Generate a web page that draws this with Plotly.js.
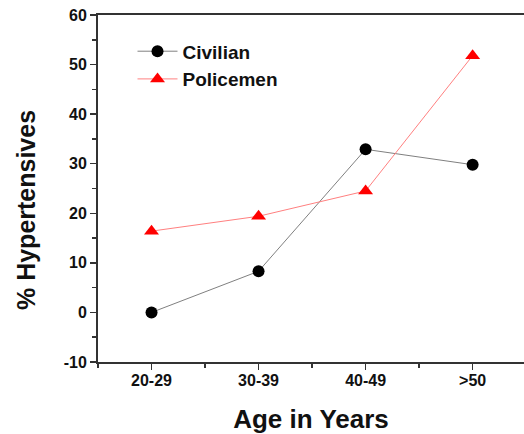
<!DOCTYPE html>
<html>
<head>
<meta charset="utf-8">
<script src="https://cdn.plot.ly/plotly-3.0.1.min.js"></script>
<style>
  html, body { margin: 0; padding: 0; background: #fff; overflow: hidden; }
  #chart { width: 524px; height: 434px; }
</style>
</head>
<body>
<div id="chart"></div>
<script>
// Age groups and share of hypertensives (%) in each group
const ageGroups = ['20-29', '30-39', '40-49', '>50'];
const civilian = [0.0, 8.3, 32.9, 29.8];
const policemen = [16.4, 19.4, 24.5, 51.8];
const yTickVals = [-10, 0, 10, 20, 30, 40, 50, 60];
const yTickText = ['-10', '0', '10', '20', '30', '40', '50', '60'];

const xPos = ageGroups.map((_, i) => i);
const boldFont = 'Liberation Sans, Arial, sans-serif';

const traces = [
  {
    x: xPos, y: civilian, name: 'Civilian', mode: 'lines+markers',
    line: { color: '#808080', width: 1 },
    marker: { symbol: 'circle', size: 12, color: '#000' }
  },
  {
    x: xPos, y: policemen, name: 'Policemen', mode: 'lines+markers',
    line: { color: '#ff8080', width: 1 },
    marker: { symbol: 'triangle-up', size: 13, color: '#ff0000' }
  }
];

const axisCommon = {
  showgrid: false, zeroline: false,
  showline: true, linecolor: '#333', linewidth: 2,
  ticks: 'outside', ticklen: 6, tickwidth: 1.5, tickcolor: '#333',
  tickfont: { family: boldFont, size: 16, color: '#111', weight: 'bold' }
};

const layout = {
  width: 524, height: 434,
  margin: { l: 98, r: 0, t: 15, b: 72 },
  paper_bgcolor: '#fff', plot_bgcolor: '#fff',
  showlegend: true,
  legend: {
    x: 0.081, y: 0.95, xanchor: 'left', yanchor: 'top',
    bgcolor: 'rgba(0,0,0,0)',
    font: { family: boldFont, size: 19, color: '#111', weight: 'bold' },
    itemwidth: 40, tracegroupgap: 0
  },
  xaxis: Object.assign({}, axisCommon, {
    range: [-0.5, 3.48],
    tickmode: 'array', tickvals: xPos, ticktext: ageGroups,
    mirror: true, ticklabelstandoff: -3,
    minor: { dtick: 0.5, tick0: -0.5, ticks: 'outside', ticklen: 4, tickcolor: '#333', tickwidth: 1.5 },
    title: { text: 'Age in Years', standoff: 24,
             font: { family: boldFont, size: 26, color: '#111', weight: 'bold' } }
  }),
  yaxis: Object.assign({}, axisCommon, {
    range: [-10, 60],
    tickmode: 'array', tickvals: yTickVals, ticktext: yTickText,
    minor: { dtick: 5, tick0: 0, ticks: 'outside', ticklen: 4, tickcolor: '#333', tickwidth: 1.5 }
  }),
  annotations: [{
    text: '% Hypertensives', textangle: -90, showarrow: false,
    xref: 'paper', yref: 'paper', x: -0.169, y: 0.438,
    xanchor: 'center', yanchor: 'middle',
    font: { family: boldFont, size: 25, color: '#111', weight: 'bold' }
  }]
};

Plotly.newPlot('chart', traces, layout, { displayModeBar: false, staticPlot: true });
</script>
</body>
</html>
